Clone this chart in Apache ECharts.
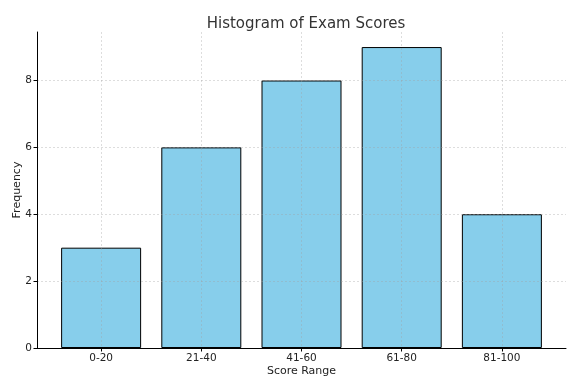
<!DOCTYPE html>
<html>
<head>
<meta charset="utf-8">
<script src="https://cdn.jsdelivr.net/npm/echarts@6/dist/echarts.min.js"></script>
<style>html,body{margin:0;padding:0;background:#fff}#c{width:579px;height:380px}</style>
</head>
<body>
<div id="c"></div>
<script>
const categories = ['0-20', '21-40', '41-60', '61-80', '81-100'];
const frequencies = [3, 6, 8, 9, 4];
const yTicks = [0, 2, 4, 6, 8];

const positions = categories.map((_, i) => i);
const chart = echarts.init(document.getElementById('c'), null, {renderer: 'canvas'});
const font = 'DejaVu Sans';
const gridStyle = {color: 'rgba(160,160,160,0.45)', type: [2, 2], width: 0.8};
chart.setOption({
  animation: false,
  title: {
    text: 'Histogram of Exam Scores',
    left: 301, top: 12, textAlign: 'center',
    textStyle: {fontFamily: font, fontSize: 15, fontWeight: 'normal', color: '#333'}
  },
  grid: {left: 37, right: 13, top: 32, bottom: 32, containLabel: false, outerBoundsMode: 'none'},
  xAxis: {
    type: 'value', min: -0.64, max: 4.64, z: 3,
    name: 'Score Range', nameLocation: 'middle', nameGap: 18, nameMoveOverlap: false,
    nameTextStyle: {fontFamily: font, fontSize: 11, color: '#222'},
    axisLine: {show: true, onZero: false, lineStyle: {color: '#000', width: 1}},
    axisTick: {show: true, length: 3.5, customValues: positions, lineStyle: {color: '#000'}},
    axisLabel: {customValues: positions, formatter: v => categories[Math.round(v)] || '',
      fontFamily: font, fontSize: 10.5, color: '#222', margin: 5},
    splitLine: {show: true, lineStyle: gridStyle}
  },
  yAxis: {
    type: 'value', min: 0, max: 9.45, interval: 2, z: 3,
    name: 'Frequency', nameLocation: 'middle', nameGap: 14, nameMoveOverlap: false,
    nameTextStyle: {fontFamily: font, fontSize: 11, color: '#222'},
    axisLine: {show: true, onZero: false, lineStyle: {color: '#000', width: 1}},
    axisTick: {show: true, length: 3.5, customValues: yTicks, lineStyle: {color: '#000'}},
    axisLabel: {customValues: yTicks, fontFamily: font, fontSize: 10.5, color: '#222', margin: 5},
    splitLine: {show: true, lineStyle: gridStyle}
  },
  series: [{
    type: 'bar', z: 1,
    barWidth: 80,
    data: frequencies.map((v, i) => [positions[i], v]),
    itemStyle: {color: '#87CEEB', borderColor: '#000', borderWidth: 1}
  }]
});
</script>
</body>
</html>
